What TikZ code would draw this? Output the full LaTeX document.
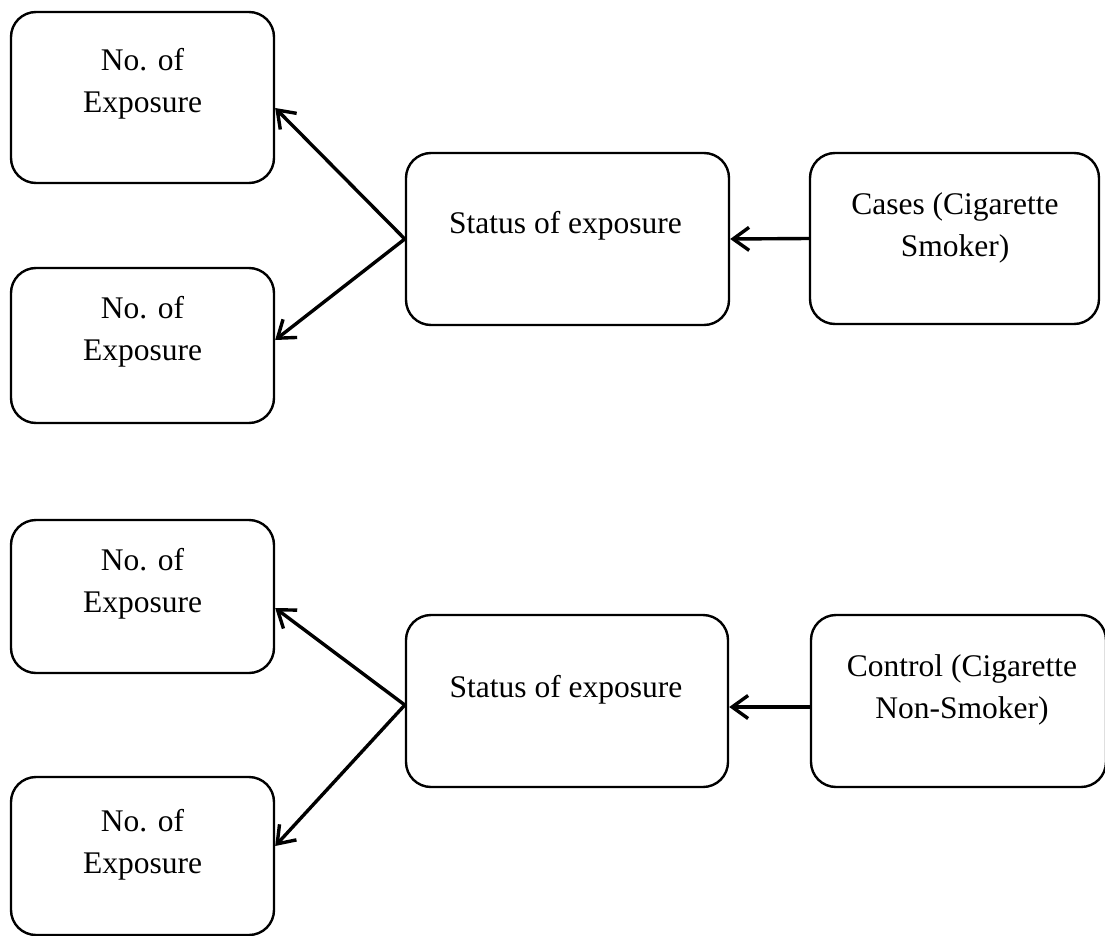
\documentclass[tikz,border=0pt]{standalone}
\usepackage{fontspec}
\setmainfont{Liberation Serif}
\usetikzlibrary{arrows.meta}
\begin{document}
\begin{tikzpicture}[x=1pt,y=-1pt,
  box/.style={draw, line width=2.4pt, rounded corners=25pt, inner sep=0pt},
  txt/.style={align=center, font=\fontsize{31.5}{42}\selectfont, inner sep=0pt},
  conn/.style={line width=3.4pt, -{Straight Barb[length=16pt,width=23pt]}}]
\clip (0,0) rectangle (1105,936);
\fill[white] (0,0) rectangle (1105,936);
% boxes
\node[box, minimum width=263pt, minimum height=171pt] (a1) at (142.5,97.5) {};
\node[box, minimum width=263pt, minimum height=155pt] (a2) at (142.5,345.5) {};
\node[box, minimum width=323pt, minimum height=172pt] (s1) at (567.5,239) {};
\node[box, minimum width=289pt, minimum height=171pt] (c1) at (954.5,238.5) {};
\node[box, minimum width=263pt, minimum height=153pt] (b1) at (142.5,596.5) {};
\node[box, minimum width=263pt, minimum height=158pt] (b2) at (142.5,856) {};
\node[box, minimum width=322pt, minimum height=172pt] (s2) at (567,701) {};
\node[box, minimum width=295pt, minimum height=172pt] (c2) at (958.5,701) {};
% texts
\node[txt] (ta1) at (142.5,84) {No. of\\Exposure};
\node[txt] (ta2) at (142.5,332) {No. of\\Exposure};
\node[txt] (ts1) at (565.5,226) {Status of exposure};
\node[txt] (tc1) at (955,228) {Cases (Cigarette\\Smoker)};
\node[txt] (tb1) at (142.5,584) {No. of\\Exposure};
\node[txt] (tb2) at (142.5,845) {No. of\\Exposure};
\node[txt] (ts2) at (566,690) {Status of exposure};
\node[txt] (tc2) at (962,690) {Control (Cigarette\\Non-Smoker)};
% connectors
\draw[conn] (s1.west) -- ([yshift=-10.5pt]a1.east);
\draw[conn] (s1.west) -- ([yshift=5.5pt]a2.east);
\draw[conn] (c1.west) -- (s1.east);
\coordinate (s2w) at ([yshift=-4pt]s2.west);
\draw[conn] (s2w) -- ([yshift=-11.5pt]b1.east);
\draw[conn] (s2w) -- ([yshift=10pt]b2.east);
\draw[conn] ([yshift=-6pt]c2.west) -- ([yshift=-6pt]s2.east);
\end{tikzpicture}
\end{document}
